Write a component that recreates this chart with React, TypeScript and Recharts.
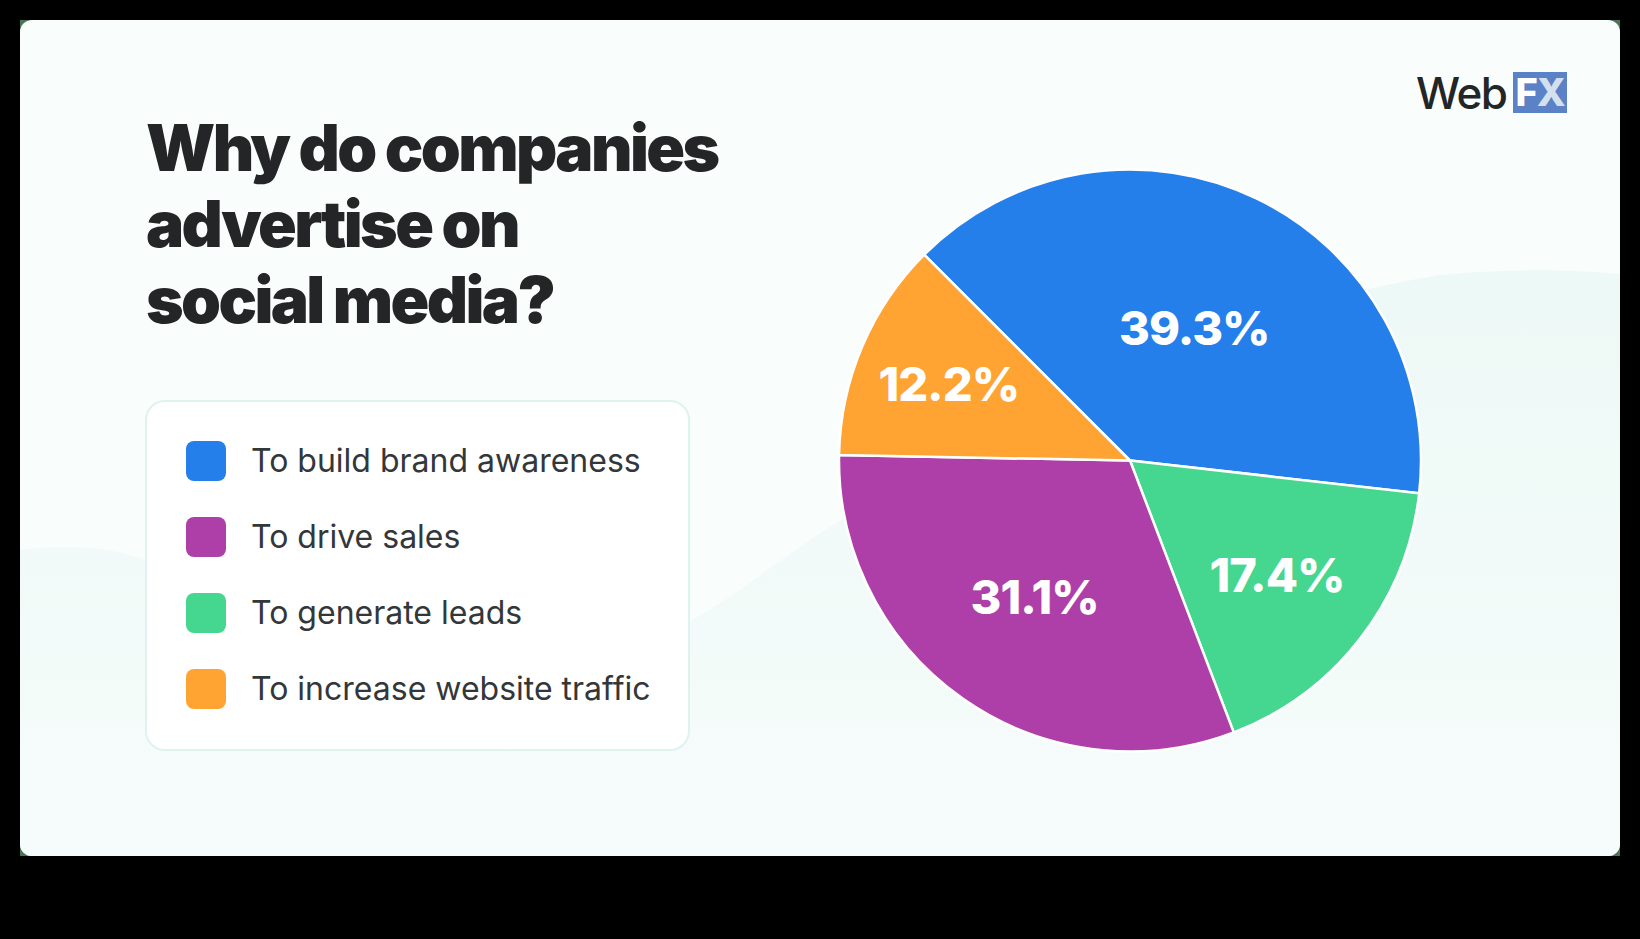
import React from "react";
import { PieChart, Pie, Cell } from "recharts";

const categories = [
  "To build brand awareness",
  "To generate leads",
  "To drive sales",
  "To increase website traffic",
];
const shares = [39.3, 17.4, 31.1, 12.2];
const colors = ["#247fea", "#45d68f", "#ae3fa8", "#ffa333"];
const legendOrder = [0, 2, 1, 3];
const titleLines = ["Why do companies", "advertise on", "social media?"];
// radial distance of each percentage label from the pie centre
const labelRadii = [148, 186, 166, 197];

const data = categories.map((name, i) => ({ name, value: shares[i] }));
const FONT = "Inter, sans-serif";
const RAD = Math.PI / 180;

function renderLabel(p: any) {
  const r = labelRadii[p.index];
  const x = p.cx + r * Math.cos(-p.midAngle * RAD);
  const y = p.cy + r * Math.sin(-p.midAngle * RAD);
  return (
    <text
      x={x}
      y={y}
      fill="#ffffff"
      textAnchor="middle"
      dominantBaseline="central"
      style={{ fontFamily: FONT, fontWeight: 800, fontSize: 47, letterSpacing: -1 }}
    >
      {`${p.value.toFixed(1)}%`}
    </text>
  );
}

export default function App() {
  return (
    <div style={{ position: "absolute", left: 0, top: 0, width: 1640, height: 939, background: "#000", overflow: "hidden" }}>
      <div style={{ position: "absolute", left: 20, top: 20, width: 1600, height: 836, background: "#4a7558" }} />
      <div style={{ position: "absolute", left: 20, top: 20, width: 1600, height: 836, borderRadius: 12, overflow: "hidden", background: "#f9fdfc" }}>
        <svg width={1600} height={836} style={{ position: "absolute", left: 0, top: 0 }}>
          <defs>
            <linearGradient id="wave" x1="0" y1="0" x2="0" y2="1">
              <stop offset="0" stopColor="#edf9f6" />
              <stop offset="1" stopColor="#f6fcfb" />
            </linearGradient>
          </defs>
          <path
            d="M0 530 C40 525 90 525 130 542 C250 590 420 640 600 625 C680 615 750 540 830 495 C1000 400 1200 290 1420 255 C1490 248 1550 250 1600 254 L1600 836 L0 836 Z"
            fill="url(#wave)"
          />
        </svg>
      </div>

      <div style={{ position: "absolute", left: 146, top: 110, fontFamily: FONT, fontWeight: 900, fontSize: 64, lineHeight: "76px", letterSpacing: -2.6, color: "#232526", whiteSpace: "nowrap" }}>
        {titleLines.map((l) => (
          <div key={l}>{l}</div>
        ))}
      </div>

      <div style={{ position: "absolute", left: 145, top: 400, width: 545, height: 351, boxSizing: "border-box", background: "#fff", border: "2px solid #def3ef", borderRadius: 20 }}>
        {legendOrder.map((idx, i) => (
          <div key={idx} style={{ position: "absolute", left: 0, top: 39 + i * 76, height: 40, display: "flex", alignItems: "center" }}>
            <div style={{ position: "absolute", left: 39, top: 0, width: 40, height: 40, borderRadius: 8, background: colors[idx] }} />
            <div style={{ position: "absolute", left: 104, top: 0, lineHeight: "40px", fontFamily: FONT, fontSize: 32, fontWeight: 400, color: "#34373a", whiteSpace: "nowrap" }}>
              {categories[idx]}
            </div>
          </div>
        ))}
      </div>

      <div style={{ position: "absolute", left: 1416, top: 66, fontFamily: "Inter, sans-serif", fontWeight: 500, fontSize: 44, lineHeight: "54px", letterSpacing: -1.5, color: "#232526" }}>
        Web
      </div>
      <div style={{ position: "absolute", left: 1513, top: 72, width: 54, height: 41, background: "#5b82c6", fontFamily: FONT, fontWeight: 800, fontSize: 38, lineHeight: "41px", textAlign: "center", letterSpacing: -1, color: "#fff" }}>
        F<span style={{ color: "#d5e0ee" }}>X</span>
      </div>

      <div style={{ position: "absolute", left: 0, top: 0 }}>
        <PieChart width={1640} height={939} margin={{ top: 0, right: 0, bottom: 0, left: 0 }}>
          <Pie
            data={data}
            dataKey="value"
            nameKey="name"
            cx={1130}
            cy={460.5}
            outerRadius={291}
            startAngle={135}
            endAngle={-225}
            stroke="#ffffff"
            strokeWidth={2.5}
            label={renderLabel}
            labelLine={false}
            isAnimationActive={false}
          >
            {data.map((d, i) => (
              <Cell key={d.name} fill={colors[i]} />
            ))}
          </Pie>
        </PieChart>
      </div>
    </div>
  );
}
